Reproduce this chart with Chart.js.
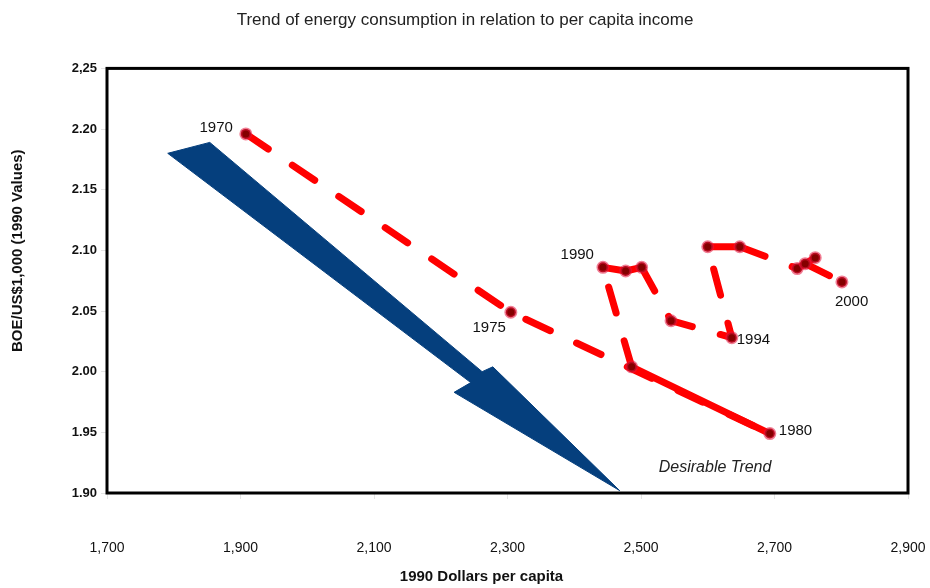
<!DOCTYPE html>
<html>
<head>
<meta charset="utf-8">
<title>Trend of energy consumption</title>
<script src="https://cdn.jsdelivr.net/npm/chart.js@4.4.1/dist/chart.umd.min.js"></script>
<style>
    html, body { margin: 0; padding: 0; background: #fff; }
    #wrap { width: 930px; height: 588px; }
</style>
</head>
<body>
<div id="wrap"><canvas id="energy-chart"></canvas></div>
<script>
// values
const years = [1970, 1975, 1980, 1985, 1990, 1991, 1992, 1993, 1994, 1995, 1996, 1997, 1998, 1999, 2000];
const income = [1908, 2305, 2693, 2486, 2443, 2477, 2501, 2545, 2636, 2600, 2648, 2734, 2761, 2746, 2801];
const energy = [2.196, 2.049, 1.949, 2.004, 2.086, 2.083, 2.086, 2.042, 2.028, 2.103, 2.103, 2.085, 2.094, 2.089, 2.074];
const labeledYears = [1970, 1975, 1980, 1990, 1994, 2000];
const yTickLabels = ['1.90', '1.95', '2.00', '2.05', '2.10', '2.15', '2.20', '2,25'];

// the "desirable trend" arrow, outline in data units
const arrowIncome = [1791, 1854, 2262, 2278, 2468, 2220, 2245, 1791];
const arrowEnergy = [2.180, 2.189, 2.000, 2.004, 1.902, 1.983, 1.991, 2.180];
const noteText = 'Desirable Trend';
const noteIncome = 2611;
const noteEnergy = 1.921;

const xTitle = '1990 Dollars per capita';
const yTitle = 'BOE/US$1,000 (1990 Values)';

const FONT = 'Arial, "Liberation Sans", sans-serif';
const dashedSegments = [0, 1, 3, 6, 7, 8, 10, 13];

let energyChart;

document.addEventListener('DOMContentLoaded', function() {
    initializeChart();
});

function toPoints(xs, ys) {
    return xs.map((x, i) => ({ x: x, y: ys[i] }));
}

const plotBorder = {
    id: 'plotBorder',
    afterDatasetsDraw(chart) {
        const a = chart.chartArea;
        const ctx = chart.ctx;
        ctx.save();
        ctx.strokeStyle = '#000';
        ctx.lineWidth = 3;
        ctx.strokeRect(a.left, a.top, a.right - a.left, a.bottom - a.top);
        ctx.restore();
    }
};

// axis titles sit a bit off the centre in the original, so draw them by hand
const axisTitles = {
    id: 'axisTitles',
    afterDraw(chart) {
        const a = chart.chartArea;
        const ctx = chart.ctx;
        ctx.save();
        ctx.fillStyle = '#111';
        ctx.font = 'bold 15px ' + FONT;
        ctx.textAlign = 'center';
        ctx.textBaseline = 'middle';
        ctx.fillText(xTitle, (a.left + a.right) / 2 - 26, chart.height - 11);
        ctx.translate(18, (a.top + a.bottom) / 2 - 30);
        ctx.rotate(-Math.PI / 2);
        ctx.fillText(yTitle, 0, 0);
        ctx.restore();
    }
};

// where each year label sits relative to its point
const labelOffsets = {
    1970: [-13, -6, 'right'],
    1975: [-5, 16, 'right'],
    1980: [9, -3, 'left'],
    1990: [-9, -12, 'right'],
    1994: [5, 2, 'left'],
    2000: [-7, 20, 'left']
};

const yearLabels = {
    id: 'yearLabels',
    afterDatasetsDraw(chart) {
        const ctx = chart.ctx;
        const xs = chart.scales.x;
        const ys = chart.scales.y;
        ctx.save();
        ctx.fillStyle = '#111';
        ctx.textBaseline = 'middle';
        ctx.font = '15px ' + FONT;
        labeledYears.forEach(yr => {
            const i = years.indexOf(yr);
            const off = labelOffsets[yr];
            ctx.textAlign = off[2];
            ctx.fillText(String(yr), xs.getPixelForValue(income[i]) + off[0], ys.getPixelForValue(energy[i]) + off[1]);
        });
        ctx.font = 'italic 16px ' + FONT;
        ctx.textAlign = 'center';
        ctx.fillStyle = '#222';
        ctx.fillText(noteText, xs.getPixelForValue(noteIncome), ys.getPixelForValue(noteEnergy));
        ctx.restore();
    }
};

function initializeChart() {
    const ctx = document.getElementById('energy-chart').getContext('2d');
    energyChart = new Chart(ctx, {
        type: 'scatter',
        data: {
            datasets: [{
                label: 'Energy intensity',
                data: toPoints(income, energy),
                showLine: true,
                borderColor: '#ff0000',
                borderWidth: 7,
                borderCapStyle: 'round',
                borderJoinStyle: 'round',
                pointRadius: 5,
                pointBackgroundColor: '#840000',
                pointBorderColor: 'rgba(230, 20, 60, 0.55)',
                pointBorderWidth: 3,
                segment: {
                    borderDash: c => dashedSegments.includes(c.p0DataIndex) ? [27, 29] : undefined
                },
                order: 1
            }, {
                label: 'Desirable trend',
                data: toPoints(arrowIncome, arrowEnergy),
                showLine: true,
                fill: 'shape',
                backgroundColor: '#053f7d',
                borderColor: '#053f7d',
                borderWidth: 1,
                pointRadius: 0,
                order: 2
            }]
        },
        options: {
            responsive: true,
            maintainAspectRatio: false,
            animation: false,
            layout: { padding: 0 },
            plugins: {
                legend: { display: false },
                tooltip: { enabled: false },
                title: {
                    display: true,
                    text: 'Trend of energy consumption in relation to per capita income',
                    color: '#222',
                    font: { family: FONT, size: 17, weight: 'normal' },
                    padding: { top: 10, bottom: 38 }
                }
            },
            scales: {
                x: {
                    type: 'linear',
                    min: 1700,
                    max: 2900,
                    afterFit: s => { s.height = 95; s.paddingRight = 22; },
                    ticks: {
                        stepSize: 200,
                        padding: 41,
                        color: '#111',
                        font: { family: FONT, size: 14 },
                        callback: v => v.toLocaleString('en-US')
                    },
                    grid: { drawOnChartArea: false, tickLength: 6, color: '#e4e4e4' },
                    border: { display: false }
                },
                y: {
                    type: 'linear',
                    min: 1.9,
                    max: 2.25,
                    afterFit: s => { s.width = 107; },
                    ticks: {
                        stepSize: 0.05,
                        padding: 4,
                        color: '#111',
                        font: { family: FONT, size: 13, weight: 'bold' },
                        callback: (v, i) => yTickLabels[i]
                    },
                    grid: { drawOnChartArea: false, tickLength: 6, color: '#e4e4e4' },
                    border: { display: false }
                }
            }
        },
        plugins: [plotBorder, yearLabels, axisTitles]
    });
}
</script>
</body>
</html>
